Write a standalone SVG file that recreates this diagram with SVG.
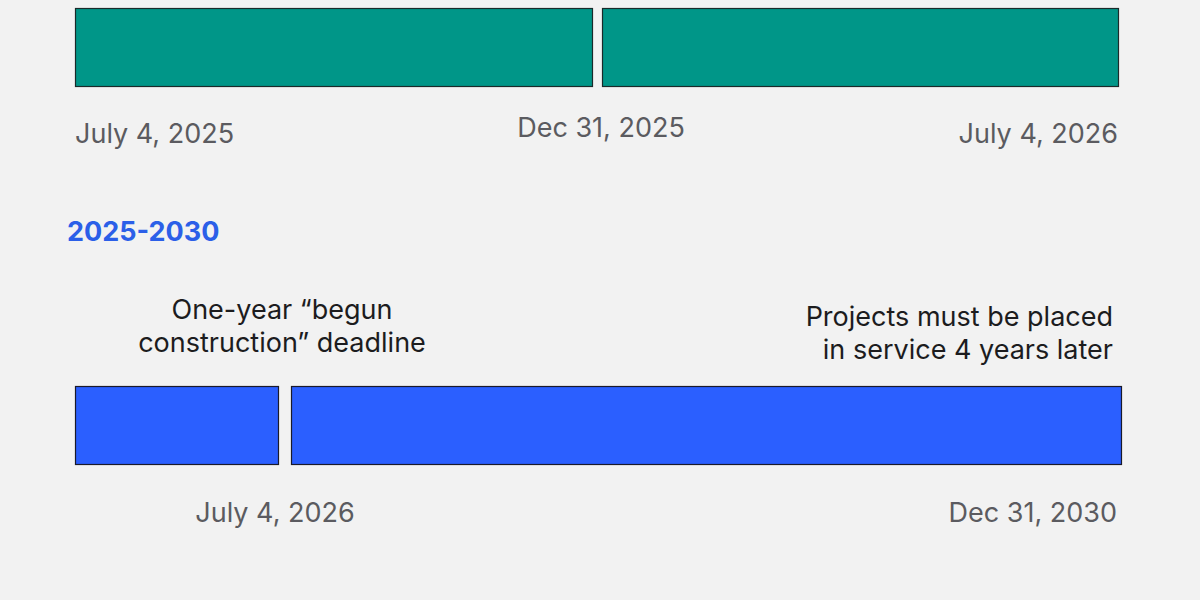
<svg xmlns="http://www.w3.org/2000/svg" width="1200" height="600" viewBox="0 0 1200 600">
<style>
.bg{fill:#f2f2f2}
.g{fill:#009688;stroke:#1a2a2a;stroke-width:1.2}
.b{fill:#2b5fff;stroke:#1a1a2a;stroke-width:1.2}
.date{font-family:Inter,"Liberation Sans",sans-serif;font-size:27px;fill:#5b5b60}
.note{font-family:Inter,"Liberation Sans",sans-serif;font-size:27px;fill:#1c1c1e}
.head{font-family:Inter,"Liberation Sans",sans-serif;font-size:27px;font-weight:700;fill:#2b5fe8}
</style>
<rect class="bg" x="0" y="0" width="1200" height="600"/>
<g id="green-bar-1"><rect class="g" x="75.5" y="8.5" width="517" height="78"/></g>
<g id="green-bar-2"><rect class="g" x="602.5" y="8.5" width="516" height="78"/></g>
<g id="blue-bar-1"><rect class="b" x="75.5" y="386.5" width="203" height="78"/></g>
<g id="blue-bar-2"><rect class="b" x="291.5" y="386.5" width="830" height="78"/></g>
<g id="connectors"></g>
<g id="labels">
<text class="date" x="75" y="143">July 4, 2025</text>
<text class="date" x="601" y="137" text-anchor="middle">Dec 31, 2025</text>
<text class="date" x="1118" y="143" text-anchor="end">July 4, 2026</text>
<text class="head" x="67" y="241">2025-2030</text>
<text class="note" x="282" y="319" text-anchor="middle">One-year “begun</text>
<text class="note" x="282" y="352" text-anchor="middle">construction” deadline</text>
<text class="note" x="1113" y="326" text-anchor="end">Projects must be placed</text>
<text class="note" x="1113" y="359" text-anchor="end">in service 4 years later</text>
<text class="date" x="275" y="522" text-anchor="middle">July 4, 2026</text>
<text class="date" x="1117" y="522" text-anchor="end">Dec 31, 2030</text>
</g>
</svg>
